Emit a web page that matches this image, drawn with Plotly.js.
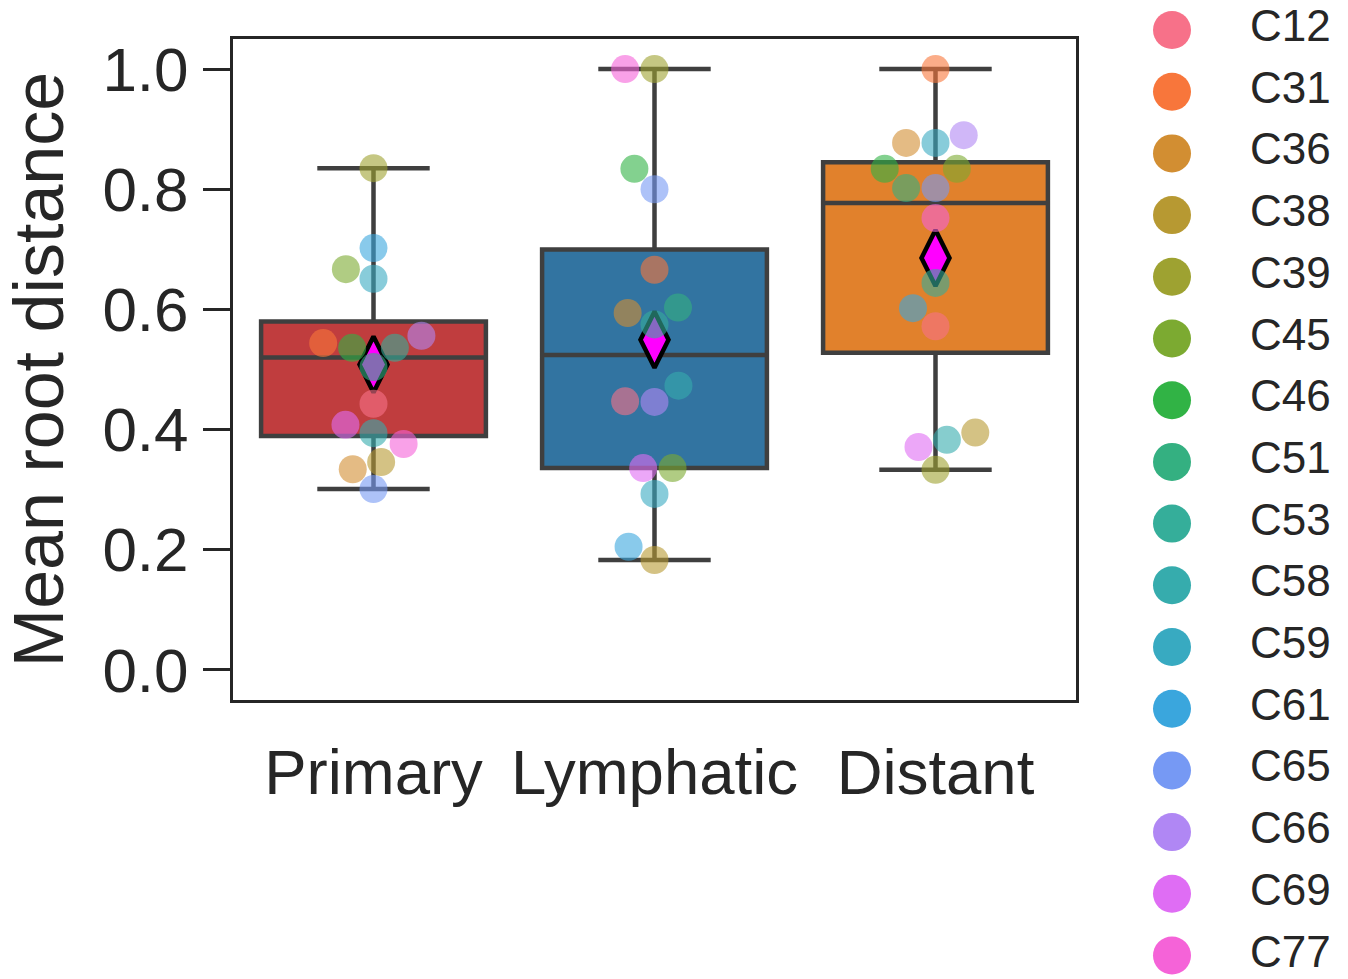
<!DOCTYPE html>
<html><head><meta charset="utf-8">
<script src="https://cdn.plot.ly/plotly-3.0.1.min.js"></script>
<style>html,body{margin:0;padding:0;background:#fff;}#chart{width:1348px;height:979px;}</style>
</head><body><div id="chart"></div>
<script>
// ---------------- data ----------------
const categories = ['Primary', 'Lymphatic', 'Distant'];
const boxColors = ['#c03d3e', '#3274a1', '#e1812c'];
const samples = ['C12','C31','C36','C38','C39','C45','C46','C51','C53','C58','C59','C61','C65','C66','C69','C77'];

const primarySamples = ['C65','C36','C38','C77','C58','C69','C12','C51','C46','C53','C31','C66','C59','C45','C61','C39'];
const primaryValues  = [0.301,0.334,0.346,0.376,0.394,0.408,0.443,0.504,0.536,0.536,0.544,0.556,0.651,0.667,0.702,0.835];

const lymphaticSamples = ['C38','C61','C59','C69','C45','C66','C12','C58','C53','C36','C51','C31','C65','C46','C39','C77'];
const lymphaticValues  = [0.183,0.205,0.293,0.336,0.336,0.446,0.447,0.473,0.575,0.594,0.603,0.666,0.800,0.834,1.000,1.000];

const distantSamples = ['C39','C69','C58','C38','C12','C61','C53','C77','C65','C51','C45','C46','C59','C36','C66','C31'];
const distantValues  = [0.333,0.371,0.383,0.395,0.572,0.602,0.644,0.752,0.802,0.802,0.834,0.834,0.877,0.877,0.890,1.000];

const yTicks = [0.0, 0.2, 0.4, 0.6, 0.8, 1.0];

// ---------------- palette (seaborn husl, 17 hues) ----------------
function huslToHex(H, S, L) {
  const m = [[3.2406,-1.5372,-0.4986],[-0.9689,1.8758,0.0415],[0.0557,-0.2040,1.0570]];
  const refU = 0.19784, refV = 0.46834, labE = 0.008856, labK = 903.3;
  const hrad = H * Math.PI / 180, sinH = Math.sin(hrad), cosH = Math.cos(hrad);
  const sub1 = Math.pow(L + 16, 3) / 1560896;
  const sub2 = sub1 > labE ? sub1 : L / labK;
  let mx = Infinity;
  for (const row of m) {
    const [m1, m2, m3] = row;
    const top = (0.99915*m1 + 1.05122*m2 + 1.14460*m3) * sub2;
    const rb = 0.86330*m3 - 0.17266*m2;
    const lb = 0.12949*m3 - 0.38848*m1;
    const bottom = (rb*sinH + lb*cosH) * sub2;
    for (const t of [0, 1]) {
      const C = L * (top - 1.05122*t) / (bottom + 0.17266*sinH*t);
      if (C > 0 && C < mx) mx = C;
    }
  }
  const C = mx / 100 * S;
  const U = Math.cos(hrad) * C, V = Math.sin(hrad) * C;
  const t = (L + 16) / 116;
  const varY = Math.pow(t, 3) > labE ? Math.pow(t, 3) : (116*t - 16) / labK;
  const varU = U / (13*L) + refU, varV = V / (13*L) + refV;
  const Y = varY;
  const X = 0 - (9*Y*varU) / ((varU - 4)*varV - varU*varV);
  const Z = (9*Y - 15*varV*Y - varV*X) / (3*varV);
  const rgb = m.map(r => {
    let c = r[0]*X + r[1]*Y + r[2]*Z;
    c = c <= 0.0031308 ? 12.92*c : 1.055*Math.pow(c, 1/2.4) - 0.055;
    c = Math.min(1, Math.max(0, c));
    return Math.round(c*255);
  });
  return '#' + rgb.map(v => v.toString(16).padStart(2, '0')).join('');
}
const nHues = 17;
const palette = samples.map((s, i) => huslToHex(((i / nHues + 0.01) % 1) * 359, 0.9*99, 0.65*99));
const colorOf = {};
samples.forEach((s, i) => colorOf[s] = palette[i]);

// ---------------- geometry ----------------
const W = 1348, H = 979;
const plotL = 233, plotR = 1076, plotT = 39, plotB = 700;
const xRange = [-0.5, 2.5], yRange = [-0.05, 1.05];
const xScale = (plotR - plotL) / (xRange[1] - xRange[0]);
const yScale = (plotB - plotT) / (yRange[1] - yRange[0]);
const pointR = 14;

// ---------------- stats ----------------
function quantile(sorted, p) {
  const pos = p * (sorted.length - 1);
  const lo = Math.floor(pos), hi = Math.ceil(pos);
  return sorted[lo] + (sorted[hi] - sorted[lo]) * (pos - lo);
}
function stats(vals) {
  const s = vals.slice().sort((a, b) => a - b);
  const q1 = quantile(s, 0.25), med = quantile(s, 0.5), q3 = quantile(s, 0.75);
  const iqr = q3 - q1;
  const lo = s.filter(v => v >= q1 - 1.5*iqr)[0];
  const hiArr = s.filter(v => v <= q3 + 1.5*iqr);
  const hi = hiArr[hiArr.length - 1];
  const mean = s.reduce((a, b) => a + b, 0) / s.length;
  return {q1, med, q3, lo, hi, mean};
}

// seaborn-like beeswarm (neighbors in placement order), in pixels
function beeswarm(values, r) {
  const n = values.length;
  const idx = values.map((v, i) => i).sort((a, b) => (values[a] - values[b]) || (a - b));
  const placed = [];
  const offsets = new Array(n);
  for (const i of idx) {
    const y = values[i] * yScale;
    let neighbors = [];
    for (let k = placed.length - 1; k >= 0; k--) {
      if (y - placed[k].y < 2*r) neighbors.push(placed[k]); else break;
    }
    neighbors = neighbors.reverse();
    const cands = [{x: 0, y}];
    let leftFirst = true;
    for (const nb of neighbors) {
      const dy = y - nb.y;
      const dx = Math.sqrt(Math.max(4*r*r - dy*dy, 0)) * 1.05;
      const cl = {x: nb.x - dx, y}, cr = {x: nb.x + dx, y};
      if (leftFirst) cands.push(cl, cr); else cands.push(cr, cl);
      leftFirst = !leftFirst;
    }
    const sorted = cands.map((c, k) => ({c, k}))
      .sort((a, b) => (Math.abs(a.c.x) - Math.abs(b.c.x)) || (a.k - b.k)).map(o => o.c);
    let chosen = sorted[0];
    for (const c of sorted) {
      let ok = true;
      for (const nb of neighbors) {
        const d2 = (c.x - nb.x)**2 + (c.y - nb.y)**2;
        if (d2 < 4*r*r - 1e-9) { ok = false; break; }
      }
      if (ok) { chosen = c; break; }
    }
    placed.push({x: chosen.x, y});
    offsets[i] = chosen.x;
  }
  return offsets;
}

const groupValues = [primaryValues, lymphaticValues, distantValues];
const groupSamples = [primarySamples, lymphaticSamples, distantSamples];

const traces = [];
const allStats = groupValues.map(stats);

// boxes
categories.forEach((cat, ci) => {
  const st = allStats[ci];
  traces.push({
    type: 'box', x: [ci], q1: [st.q1], median: [st.med], q3: [st.q3],
    lowerfence: [st.lo], upperfence: [st.hi],
    width: 0.8, whiskerwidth: 0.5, boxpoints: false,
    fillcolor: boxColors[ci], line: {color: '#3f3f3f', width: 4.5},
    showlegend: false, hoverinfo: 'skip', xaxis: 'x', yaxis: 'y'
  });
});

// means
traces.push({
  type: 'scatter', mode: 'markers',
  x: categories.map((c, i) => i), y: allStats.map(s => s.mean),
  marker: {symbol: 'diamond-tall', size: 40, color: '#ff00ff', line: {color: '#000000', width: 4.5}},
  showlegend: false, hoverinfo: 'skip', cliponaxis: false, xaxis: 'x', yaxis: 'y'
});

// points
categories.forEach((cat, ci) => {
  const vals = groupValues[ci];
  const offs = beeswarm(vals, pointR);
  traces.push({
    type: 'scatter', mode: 'markers',
    x: vals.map((v, k) => ci + offs[k] / xScale), y: vals,
    marker: {size: 2*pointR, color: groupSamples[ci].map(s => colorOf[s]), opacity: 0.6, line: {width: 0}},
    showlegend: false, hoverinfo: 'skip', cliponaxis: false, xaxis: 'x', yaxis: 'y'
  });
});

// custom legend
traces.push({
  type: 'scatter', mode: 'markers',
  x: samples.map(() => 0), y: samples.map((s, i) => i),
  marker: {size: 38, color: palette, line: {width: 0}},
  showlegend: false, hoverinfo: 'skip', cliponaxis: false, xaxis: 'x2', yaxis: 'y2'
});
traces.push({
  type: 'scatter', mode: 'text',
  x: samples.map(() => 1), y: samples.map((s, i) => i),
  text: samples, textposition: 'middle right',
  textfont: {family: 'Liberation Sans, Arial, sans-serif', size: 44, color: '#262626'},
  showlegend: false, hoverinfo: 'skip', cliponaxis: false, xaxis: 'x2', yaxis: 'y2'
});

const areaW = W - plotL;
const legUnit = 78, legX0 = 1172, legLeft = 1102;
const legRowY0 = 30, legRowStep = 61.7;

const font = {family: 'Liberation Sans, Arial, sans-serif', color: '#262626'};
const layout = {
  width: W, height: H,
  margin: {l: plotL, r: 0, t: 0, b: 0, pad: 0},
  paper_bgcolor: '#ffffff', plot_bgcolor: '#ffffff',
  font: font, showlegend: false, boxmode: 'overlay',
  xaxis: {
    domain: [0, (plotR - plotL) / areaW], range: xRange,
    tickvals: categories.map((c, i) => i), ticktext: categories,
    ticks: '', ticklen: 0, ticklabelstandoff: 15,
    tickfont: {size: 63.5, family: font.family, color: '#262626'},
    showgrid: false, zeroline: false,
    showline: true, mirror: true, linecolor: '#262626', linewidth: 3,
    anchor: 'y', fixedrange: true
  },
  yaxis: {
    domain: [(H - plotB) / H, (H - plotT) / H], range: yRange,
    tickvals: yTicks, tickformat: '.1f',
    ticks: 'outside', ticklen: 27, tickwidth: 3, tickcolor: '#262626', ticklabelstandoff: 2,
    tickfont: {size: 62, family: font.family, color: '#262626'},
    showgrid: false, zeroline: false,
    showline: true, mirror: true, linecolor: '#262626', linewidth: 3,
    title: {text: 'Mean root distance', font: {size: 70, family: font.family, color: '#262626'}, standoff: 20},
    anchor: 'x', fixedrange: true
  },
  xaxis2: {
    domain: [(legLeft - plotL) / areaW, 1],
    range: [(legLeft - legX0) / legUnit, (W - legX0) / legUnit],
    visible: false, anchor: 'y2', fixedrange: true
  },
  yaxis2: {
    domain: [0, 1],
    range: [(H - legRowY0) / legRowStep, -legRowY0 / legRowStep],
    visible: false, anchor: 'x2', fixedrange: true
  }
};

Plotly.newPlot('chart', traces, layout, {staticPlot: true, displayModeBar: false});
</script>
</body></html>
